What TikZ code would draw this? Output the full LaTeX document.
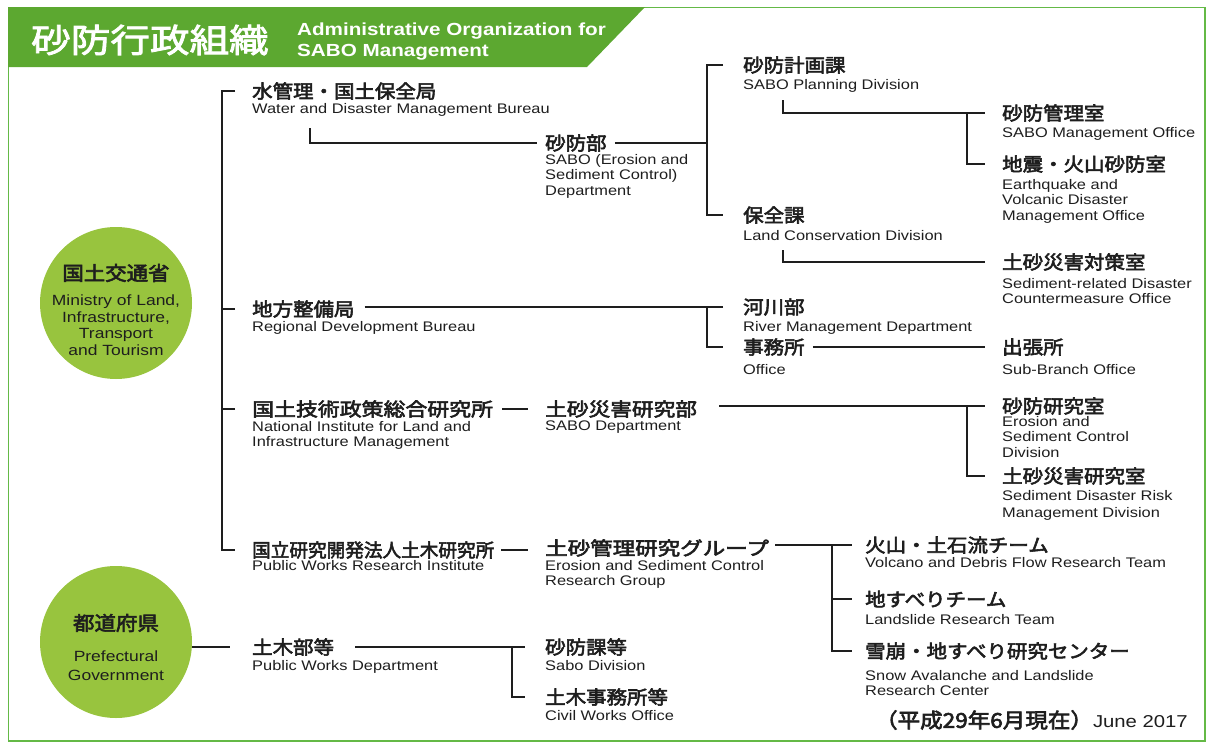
\documentclass[tikz,border=0pt]{standalone}
\usepackage{fontspec}
\setmainfont{Liberation Sans}
\newfontfamily\en{Liberation Sans}[FakeStretch=1.18]
\newfontfamily\jp{Noto Sans CJK JP}[FakeStretch=1.1, FakeBold=3]
\newfontfamily\jpt{Noto Sans CJK JP}[FakeStretch=1.2, FakeBold=2.5]
\definecolor{hdr}{RGB}{92,168,48}
\definecolor{circ}{RGB}{152,196,62}
\definecolor{frm}{RGB}{100,185,70}
\definecolor{ink}{RGB}{30,30,30}
\tikzset{
  jpn/.style={anchor=west, inner sep=0pt, text=ink, font=\jp\fontsize{18.6}{20}\selectfont},
  eng/.style={anchor=north west, inner sep=0pt, align=left, text=ink, font=\en\fontsize{13.9}{15.5}\selectfont},
  conn/.style={line width=1.8pt, draw=ink},
  orb/.style={circle, fill=circ, minimum size=152pt, inner sep=0pt}
}
\begin{document}
\begin{tikzpicture}[x=1pt,y=-1pt]
\useasboundingbox (0,0) rectangle (1210,747);
\fill[white] (0,0) rectangle (1210,747);
% frame and header
\draw[frm, line width=1.5pt] (8.5,7.5) rectangle (1205,741);
\fill[hdr] (8,7) -- (645,7) -- (587,67) -- (8,67) -- cycle;
\node[anchor=west, inner sep=0pt, text=white, font=\jpt\fontsize{33}{34}\selectfont] (title) at (31,40) {砂防行政組織};
\node[anchor=north west, inner sep=0pt, align=left, text=white, font=\en\bfseries\fontsize{17.5}{21}\selectfont] (sub) at (297,22.5) {Administrative Organization for\\SABO Management};

% circles
\node[orb] (mlit) at (116,303) {};
\node[inner sep=0pt, text=ink, font=\jp\fontsize{19.5}{21}\selectfont] (mlitj) at (116,273) {国土交通省};
\node[anchor=north, inner sep=0pt, align=center, text=ink, font=\en\fontsize{14.8}{16.6}\selectfont] (mlite) at (116,294.5) {Ministry of Land,\\Infrastructure,\\Transport\\and Tourism};
\node[orb] (pref) at (116,642) {};
\node[inner sep=0pt, text=ink, font=\jp\fontsize{19.5}{21}\selectfont] (prefj) at (116,623) {都道府県};
\node[anchor=north, inner sep=0pt, align=center, text=ink, font=\en\fontsize{14.8}{19}\selectfont] (prefe) at (116,650.5) {Prefectural\\Government};

% entries
\node[jpn] (A) at (252,91) {水管理・国土保全局};
\node[eng] (eA) at (252,103) {Water and Disaster Management Bureau};
\node[jpn] (B) at (545,143) {砂防部};
\node[eng] (eB) at (545,154) {SABO (Erosion and\\Sediment Control)\\Department};
\node[jpn] (C) at (743,65) {砂防計画課};
\node[eng] (eC) at (743,79) {SABO Planning Division};
\node[jpn] (D) at (1002,113) {砂防管理室};
\node[eng] (eD) at (1002,127) {SABO Management Office};
\node[jpn] (E) at (1002,164) {地震・火山砂防室};
\node[eng] (eE) at (1002,179) {Earthquake and\\Volcanic Disaster\\Management Office};
\node[jpn] (F) at (743,215) {保全課};
\node[eng] (eF) at (743,230) {Land Conservation Division};
\node[jpn] (G) at (1002,262) {土砂災害対策室};
\node[eng] (eG) at (1002,278) {Sediment-related Disaster\\Countermeasure Office};
\node[jpn] (H) at (252,309) {地方整備局};
\node[eng] (eH) at (252,321) {Regional Development Bureau};
\node[jpn] (I) at (743,307) {河川部};
\node[eng] (eI) at (743,321) {River Management Department};
\node[jpn] (J) at (743,347) {事務所};
\node[eng] (eJ) at (743,364) {Office};
\node[jpn] (K) at (1002,347) {出張所};
\node[eng] (eK) at (1002,364) {Sub-Branch Office};
\node[jpn] (L) at (252,409) {\scalebox{1.07}[1]{国土技術政策総合研究所}};
\node[eng] (eL) at (252,421) {National Institute for Land and\\Infrastructure Management};
\node[jpn] (M) at (545,409) {\scalebox{1.06}[1]{土砂災害研究部}};
\node[eng] (eM) at (545,421) {SABO Department};
\node[jpn] (N) at (1002,406) {砂防研究室};
\node[eng] (eN) at (1002,416) {Erosion and\\Sediment Control\\Division};
\node[jpn] (O) at (1002,476) {土砂災害研究室};
\node[eng, font=\en\fontsize{13.9}{17}\selectfont] (eO) at (1002,490) {Sediment Disaster Risk\\Management Division};
\node[jpn] (P) at (252,550) {\scalebox{0.91}[1]{国立研究開発法人土木研究所}};
\node[eng] (eP) at (252,560) {Public Works Research Institute};
\node[jpn] (Q) at (545,548) {\scalebox{1.1}[1]{土砂管理研究グループ}};
\node[eng] (eQ) at (545,560) {Erosion and Sediment Control\\Research Group};
\node[jpn] (R) at (865,545) {火山・土石流チーム};
\node[eng] (eR) at (865,557) {Volcano and Debris Flow Research Team};
\node[jpn] (S) at (865,599) {地すべりチーム};
\node[eng] (eS) at (865,614) {Landslide Research Team};
\node[jpn] (T) at (865,651) {雪崩・地すべり研究センター};
\node[eng] (eT) at (865,670) {Snow Avalanche and Landslide\\Research Center};
\node[jpn] (U) at (252,647) {土木部等};
\node[eng] (eU) at (252,660) {Public Works Department};
\node[jpn] (V) at (545,647) {砂防課等};
\node[eng] (eV) at (545,660) {Sabo Division};
\node[jpn] (W) at (545,697) {土木事務所等};
\node[eng] (eW) at (545,710) {Civil Works Office};

\node[anchor=east, inner sep=0pt, text=ink] (foot) at (1188,720)
  {{\jp\fontsize{20.5}{22}\selectfont （平成29年6月現在）}{\en\fontsize{17.2}{20}\selectfont June 2017}};

% connectors
\coordinate (a1) at (310,128);
\coordinate (c1) at (783,100);
\coordinate (f1) at (783,250);
\draw[conn] ([xshift=-17pt]A.west) -- ++(-13,0) |- ([xshift=-17pt]P.west);
\draw[conn] ([xshift=-17pt]H.west) -- ++(-13,0);
\draw[conn] ([xshift=-17pt]L.west) -- ++(-13,0);
\draw[conn] (a1) |- ([xshift=-8pt]B.west);
\draw[conn] ([xshift=8pt]B.east) -- ([xshift=-36pt]C.west |- B.west);
\draw[conn] ([xshift=-20pt]C.west) -- ++(-16,0) |- ([xshift=-20pt]F.west);
\draw[conn] (c1) |- ([xshift=-17pt]D.west);
\draw[conn] ([xshift=-35pt]D.west) |- ([xshift=-17pt]E.west);
\draw[conn] (f1) |- ([xshift=-17pt]G.west);
\draw[conn] ([xshift=10pt]H.east |- I.west) -- ([xshift=-36pt]I.west);
\draw[conn] ([xshift=-20pt]I.west) -- ++(-16,0) |- ([xshift=-20pt]J.west);
\draw[conn] ([xshift=8pt]J.east) -- ([xshift=-17pt]K.west);
\draw[conn] ([xshift=9pt]L.east) -- ([xshift=-17pt]M.west);
\draw[conn] ([xshift=22pt]M.east |- N.west) -- ([xshift=-17pt]N.west);
\draw[conn] ([xshift=-35pt]N.west) |- ([xshift=-17pt]O.west);
\draw[conn] ([xshift=7pt]P.east) -- ([xshift=-17pt]Q.west |- P.east);
\draw[conn] ([xshift=6pt]Q.east |- R.west) -- ([xshift=-13pt]R.west);
\draw[conn] ([xshift=-33pt]R.west) |- ([xshift=-13pt]T.west);
\draw[conn] ([xshift=-33pt]S.west) -- ([xshift=-13pt]S.west);
\draw[conn] (pref.east |- U.west) -- ([xshift=-22pt]U.west);
\draw[conn] ([xshift=21pt]U.east |- V.west) -- ([xshift=-20pt]V.west);
\draw[conn] ([xshift=-33pt]V.west) |- ([xshift=-20pt]W.west);
\end{tikzpicture}
\end{document}
